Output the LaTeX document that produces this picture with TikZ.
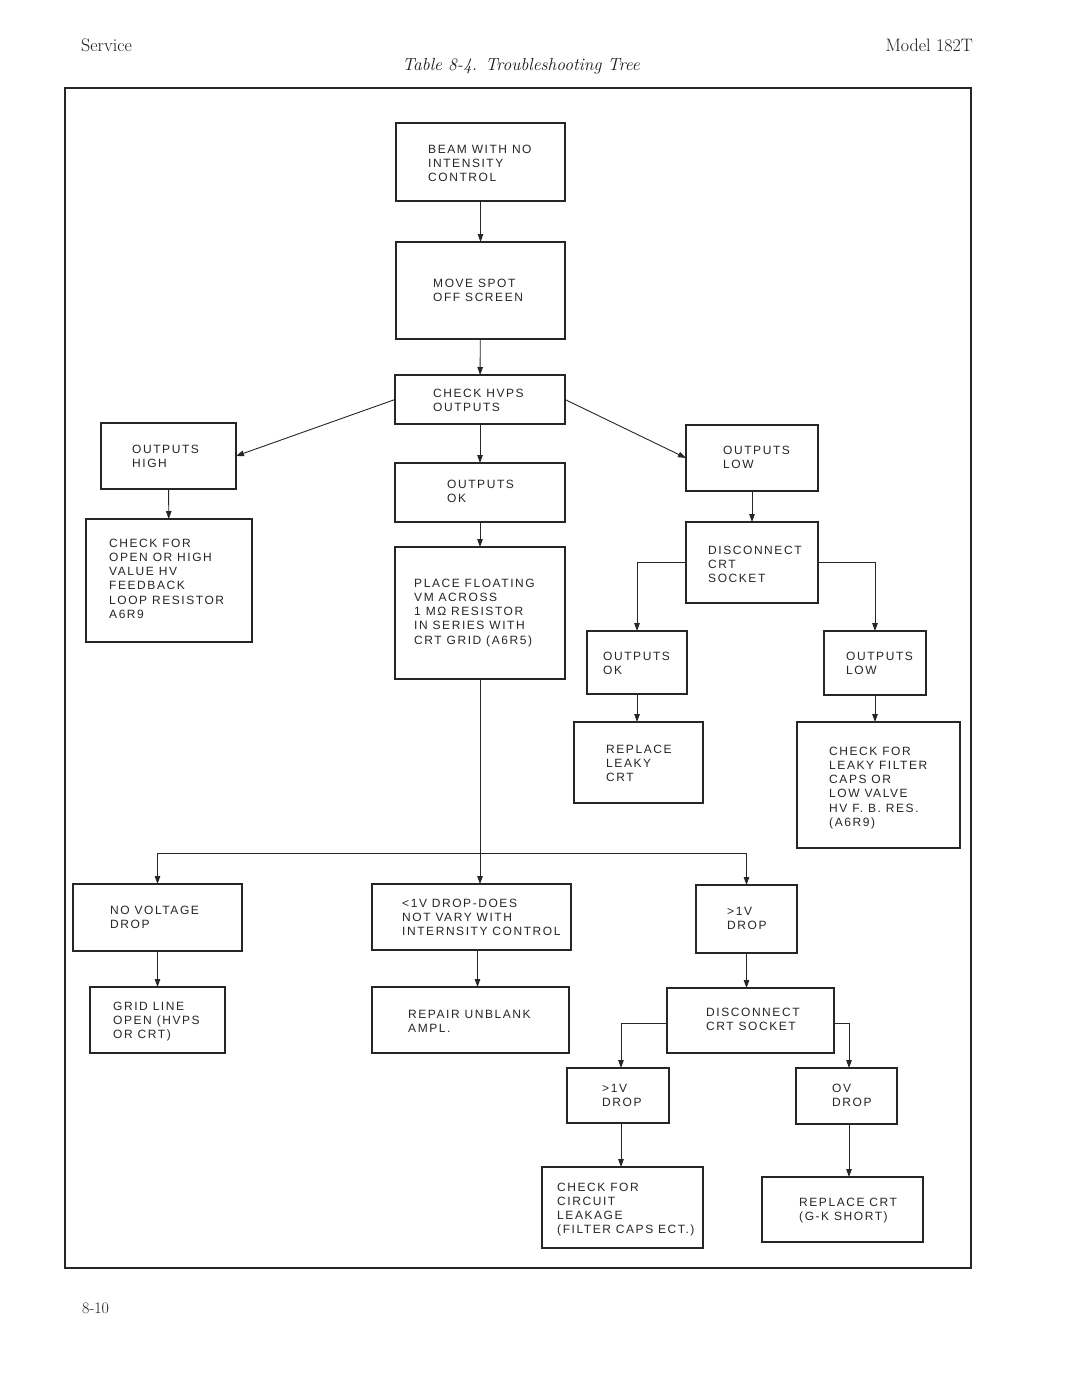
\documentclass[tikz,border=0pt]{standalone}
\usepackage{fontspec}
\newfontfamily\boxfnt[LetterSpace=13]{Liberation Sans}
\usetikzlibrary{arrows.meta,calc}
\tikzset{
 box/.style={draw=black!85, line width=2.3pt, inner sep=0pt, outer sep=0pt},
 txt/.style={inner sep=0pt, anchor=north west, align=left, text=black!85, font={\boxfnt\fontsize{12}{14.2}\selectfont}},
 arr/.style={draw=black!85, line width=0.9pt, -{Triangle[length=8pt,width=5.5pt]}},
 conn/.style={draw=black!85, line width=0.9pt},
 hdr/.style={inner sep=0pt, text=black!90, font={\fontsize{18}{21}\selectfont\addfontfeatures{FakeStretch=1.18}}},
}
\newcommand\bx[8]{%
 \node[box, minimum width={(#4-#2)*1pt}, minimum height={(#5-#3)*1pt}] (#1) at ({(#2+#4)/2},{(#3+#5)/2}) {};
 \node[txt] (#1t) at (#6,#7) {#8};
}
\begin{document}
\begin{tikzpicture}[x=1pt,y=-1pt]
\fill[white] (0,0) rectangle (1080,1399);
\useasboundingbox (0,0) rectangle (1080,1399);

\node[hdr, anchor=base west] (svc) at (81,52) {Service};
\node[hdr, anchor=base east] (mdl) at (973,52) {Model 182T};
\node[hdr, anchor=base, font={\fontsize{17.5}{20}\selectfont\itshape\addfontfeatures{FakeStretch=1.09}}] (ttl) at (521,71) {Table 8-4. Troubleshooting Tree};
\node[hdr, anchor=base west, font={\fontsize{16}{19}\selectfont\addfontfeatures{FakeStretch=1.05}}] (pg) at (82,1313) {8-10};

\node[draw=black!85, line width=1.2pt, minimum width=906pt, minimum height=1180pt, inner sep=0pt] (frame) at (518,678) {};

\bx{n1}{396}{123}{565}{201}{428}{144.7}{BEAM WITH NO\\INTENSITY\\CONTROL}
\bx{n2}{396}{242}{565}{339}{433}{278.7}{MOVE SPOT\\OFF SCREEN}
\bx{n3}{395}{375}{565}{424}{433}{388.7}{CHECK HVPS\\OUTPUTS}
\bx{n4}{101}{423}{236}{489}{132}{444.7}{OUTPUTS\\HIGH}
\bx{n5}{86}{519}{252}{642}{109}{538.7}{CHECK FOR\\OPEN OR HIGH\\VALUE HV\\FEEDBACK\\LOOP RESISTOR\\A6R9}
\bx{n6}{395}{463}{565}{522}{447}{479.7}{OUTPUTS\\OK}
\bx{n7}{395}{547}{565}{679}{414}{578.7}{PLACE FLOATING\\VM ACROSS\\1 MΩ RESISTOR\\IN SERIES WITH\\CRT GRID (A6R5)}
\bx{n8}{686}{425}{818}{491}{723}{445.7}{OUTPUTS\\LOW}
\bx{n9}{686}{522}{818}{603}{708}{545.7}{DISCONNECT\\CRT\\SOCKET}
\bx{n10}{587}{631}{687}{694}{603}{651.7}{OUTPUTS\\OK}
\bx{n11}{824}{631}{926}{695}{846}{651.7}{OUTPUTS\\LOW}
\bx{n12}{574}{722}{703}{803}{606}{744.7}{REPLACE\\LEAKY\\CRT}
\bx{n13}{797}{722}{960}{848}{829}{746.7}{CHECK FOR\\LEAKY FILTER\\CAPS OR\\LOW VALVE\\HV F. B. RES.\\(A6R9)}
\bx{n14}{73}{884}{242}{951}{110}{905.7}{NO VOLTAGE\\DROP}
\bx{n15}{372}{884}{571}{950}{402}{898.7}{<1V DROP-DOES\\NOT VARY WITH\\INTERNSITY CONTROL}
\bx{n16}{696}{885}{797}{953}{727}{906.7}{>1V\\DROP}
\bx{n17}{90}{987}{225}{1053}{113}{1001.7}{GRID LINE\\OPEN (HVPS\\OR CRT)}
\bx{n18}{372}{987}{569}{1053}{408}{1009.7}{REPAIR UNBLANK\\AMPL.}
\bx{n19}{667}{988}{834}{1053}{706}{1007.7}{DISCONNECT\\CRT SOCKET}
\bx{n20}{567}{1068}{669}{1123}{602}{1083.7}{>1V\\DROP}
\bx{n21}{796}{1068}{897}{1124}{832}{1083.7}{OV\\DROP}
\bx{n22}{542}{1167}{703}{1248}{557}{1182.7}{CHECK FOR\\CIRCUIT\\LEAKAGE\\(FILTER CAPS ECT.)}
\bx{n23}{762}{1177}{923}{1242}{799}{1197.7}{REPLACE CRT\\(G-K SHORT)}

\draw[arr] (n1) -- (n2);
\draw[arr] (n2) -- (n3);
\draw[arr] (n3) -- (n6);
\draw[arr] (n3.west) -- (n4.east);
\draw[arr] (n3.east) -- (n8.west);
\draw[arr] (n4) -- (n5);
\draw[arr] (n6) -- (n7);
\coordinate (hj) at (479,853);
\draw[arr] (n7.south) -- (n7.south |- n15.north);
\draw[arr] (n7.south |- hj) -| (n14.north);
\draw[arr] (n7.south |- hj) -| (n16.north);
\draw[arr] (n8) -- (n9);
\draw[arr] (n9.west) -| (n10.north);
\draw[arr] (n9.east) -| (n11.north);
\draw[arr] (n10.south) -- (n10.south |- n12.north);
\draw[arr] (n11.south) -- (n11.south |- n13.north);
\draw[arr] (n14) -- (n17);
\draw[arr] ([xshift=6pt]n15.south) -- ([xshift=6pt]n15.south |- n18.north);
\draw[arr] (n16.south) -- (n16.south |- n19.north);
\draw[arr] ([yshift=-2.5pt]n19.west) -| ([xshift=3pt]n20.north);
\draw[arr] ([yshift=-2.5pt]n19.east) -| ([xshift=2.5pt]n21.north);
\draw[arr] ([xshift=3pt]n20.south) -- ([xshift=3pt]n20.south |- n22.north);
\draw[arr] ([xshift=2.5pt]n21.south) -- ([xshift=2.5pt]n21.south |- n23.north);
\end{tikzpicture}
\end{document}
